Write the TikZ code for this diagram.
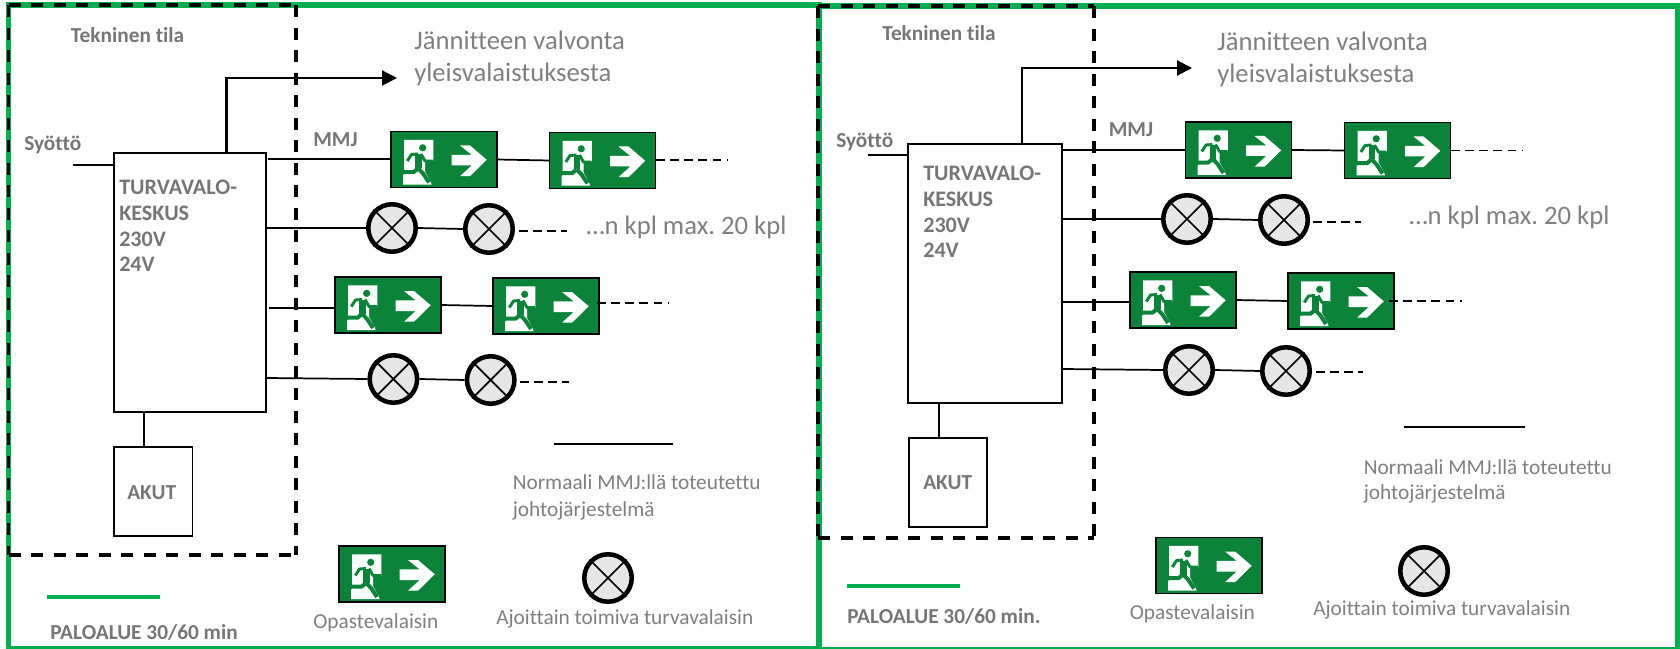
\documentclass[tikz,border=0pt]{standalone}
\usepackage{fontspec}
\setmainfont[Ligatures=NoCommon]{Carlito}
\usetikzlibrary{arrows.meta,calc}
\definecolor{frameG}{HTML}{00B050}
\definecolor{signG}{HTML}{0B843A}
\definecolor{txtG}{HTML}{7F7F7F}
\definecolor{boldG}{HTML}{767676}
\definecolor{lampG}{HTML}{E6E6E6}
\tikzset{
  x=0.75pt,y=-0.75pt,
  frame/.style={draw=frameG,line width=4.1pt,line cap=rect},
  zone/.style={draw=black,line width=2.5pt,dash pattern=on 9pt off 7.9pt},
  wire/.style={draw=black,line width=1.3pt},
  tail/.style={draw=black,line width=1.3pt,dash pattern=on 6.4pt off 4.2pt},
  feed/.style={draw=black,line width=1.6pt,-{Triangle[length=11.25pt,width=11.25pt]}},
  unit/.style={draw=black,line width=1.3pt,fill=white,inner sep=0,outer sep=0},
  signbox/.style={draw=black,line width=1.3pt,fill=signG,minimum width=79.5pt,minimum height=42pt,inner sep=0,outer sep=0},
  lamp/.style={circle,draw=black,line width=3.4pt,fill=lampG,minimum size=35.6pt,inner sep=0},
  bolt/.style={anchor=west,inner sep=0,yshift=-2.1pt,text height=.64em,text depth=0pt,text=boldG,font=\bfseries\fontsize{16pt}{18pt}\selectfont},
  plain/.style={anchor=west,inner sep=0,yshift=-2.1pt,text height=.64em,text depth=0pt,text=txtG,font=\fontsize{16pt}{18pt}\selectfont},
  big/.style={anchor=west,inner sep=0,yshift=-2.6pt,text height=.64em,text depth=0pt,text=txtG,font=\fontsize{20pt}{23pt}\selectfont},
  stack/.style={anchor=north west,inner sep=0,align=left,text=boldG,font=\bfseries\fontsize{16.6pt}{19.3pt}\selectfont},
}
\newcommand{\exitsign}[3]{%
  \node[signbox] (#1) at (#2,#3) {};
  \begin{scope}[shift={(#1.center)}]
    \fill[white] (-40,-19.7) -- (-10.7,-19.7) -- (-10.7,1.5) -- (-19,1.5) -- (-19,12) -- (-13.5,22) -- (-12.5,25) -- (-41,25) -- (-41,16) -- (-40,14.5) -- cycle;
    \fill[signG] (-21.3,-11.7) circle (3.6);
    \draw[signG,line width=4.6pt,line join=round] (-25.5,-5) -- (-25.5,9);
    \draw[signG,line width=2.2pt,line join=round] (-26,-5.5) -- (-32.5,-5) -- (-36.7,1.5);
    \draw[signG,line width=2.2pt,line join=round] (-23,-5.5) -- (-19,1.5) -- (-11,1.5);
    \draw[signG,line width=3pt,line join=round] (-25.7,9) -- (-20.7,14.3) -- (-15,23);
    \draw[signG,line width=3pt,line join=round] (-26,9) -- (-30.5,12.7) -- (-43,12.7);
    \fill[white] (7.7,-4.7) -- (27.7,-4.7) -- (16,-14) -- (26,-14) -- (42.7,0.3) -- (26,16.7) -- (16,16.7) -- (27.7,6) -- (7.7,6) -- cycle;
  \end{scope}}
\newcommand{\xlamp}[3]{%
  \node[lamp] (#1) at (#2,#3) {};
  \draw[wire] (#1.45) -- (#1.225) (#1.135) -- (#1.-45);}
\begin{document}
\frenchspacing
\begin{tikzpicture}
\useasboundingbox (0,0) rectangle (1680,649);
% fire compartments
\coordinate (fa) at (8.5,5);
\coordinate (fb) at (819,648.5);
\coordinate (fc) at (819,6);
\coordinate (fd) at (1678,649.5);
\draw[frame,fill=white] (fa) rectangle (fb);
\draw[frame] (fc) rectangle (fd);
% ---------- left ----------
\node[unit,minimum width=114pt,minimum height=194.25pt] (boxL) at (190,282.5) {};
\node[unit,minimum width=58.95pt,minimum height=66.75pt] (akuL) at (153.3,491.5) {};
\coordinate (inL) at (73,165);
\coordinate (tapL) at (226.5,153);
\coordinate (upL) at (226.5,78);
\coordinate (tipL) at (397,78);
\coordinate (batL) at (144,412);
\coordinate (batLb) at (144,447);
\draw[wire] (inL) -- (inL -| boxL.west);
\draw[feed] (tapL) -- (upL) -- (tipL);
\draw[wire] (batL) -- (batLb);
\exitsign{lA}{444}{159.5}
\exitsign{lB}{602.5}{160.5}
\exitsign{lC}{388}{305}
\exitsign{lD}{546}{306}
\exitsign{lE}{392}{574}
\xlamp{lP}{392}{228}
\xlamp{lQ}{489}{229}
\xlamp{lR}{393.4}{379}
\xlamp{lS}{490.7}{380}
\xlamp{lT}{608}{578}
\coordinate (l1) at (268,159);
\coordinate (l3) at (269,308);
\coordinate (l4) at (266,378);
\draw[wire] (l1) -- (l1 -| lA.west);
\draw[wire] (lA.east) -- (lB.west);
\draw[wire] (boxL.east |- lP.west) -- (lP.west);
\draw[wire] (lP.east) -- (lQ.west);
\draw[wire] (l3) -- (l3 -| lC.west);
\draw[wire] (lC.east) -- (lD.west);
\draw[wire] (l4) -- (lR.west);
\draw[wire] (lR.east) -- (lS.west);
\coordinate (d1a) at (656,160); \coordinate (d1b) at (728,160);
\coordinate (d2a) at (519,231); \coordinate (d2b) at (567,231);
\coordinate (d3a) at (597,303); \coordinate (d3b) at (669,303);
\coordinate (d4a) at (520,381.7); \coordinate (d4b) at (568.6,381.7);
\draw[tail] (d1a) -- (d1b);
\draw[tail] (d2a) -- (d2b);
\draw[tail] (d3a) -- (d3b);
\draw[tail] (d4a) -- (d4b);
\coordinate (ll1) at (554,444); \coordinate (ll2) at (673,444);
\draw[wire] (ll1) -- (ll2);
\coordinate (lg1) at (46.7,597); \coordinate (lg2) at (160,597);
\draw[draw=frameG,line width=3pt] (lg1) -- (lg2);
\coordinate (za) at (8.5,5); \coordinate (zb) at (296,5); \coordinate (zc) at (296,555); \coordinate (zd) at (8.5,555);
\draw[zone] (za) -- (zb) (zb) -- (zc) (zd) -- (zc) (za) -- (zd);
\node[bolt] (tL1) at (70.7,35) {Tekninen tila};
\node[bolt] (tL2) at (24,143) {Syöttö};
\node[bolt] (tL3) at (313,139) {MMJ};
\node[stack] (tL4) at (119,180) {TURVAVALO-\\KESKUS\\230V\\24V};
\node[bolt] (tL5) at (127,492) {AKUT};
\node[bolt] (tL6) at (50,632) {PALOALUE 30/60 min};
\node[big] (tL7) at (414,42) {Jännitteen valvonta};
\node[big] (tL8) at (414,74) {yleisvalaistuksesta};
\node[big] (tL9) at (586,227) {…n kpl max. 20 kpl};
\node[plain] (tL10) at (512.5,482) {Normaali MMJ:llä toteutettu};
\node[plain] (tL11) at (512.5,509) {johtojärjestelmä};
\node[plain] (tL12) at (313,621) {Opastevalaisin};
\node[plain] (tL13) at (496,617) {Ajoittain toimiva turvavalaisin};
% ---------- right ----------
\node[unit,minimum width=115.5pt,minimum height=194.25pt] (boxR) at (985,273.5) {};
\node[unit,minimum width=58.5pt,minimum height=66.75pt] (akuR) at (948,482.5) {};
\coordinate (inR) at (868,155);
\coordinate (tapR) at (1022,144);
\coordinate (upR) at (1022,68);
\coordinate (tipR) at (1192,68);
\coordinate (batR) at (939,403);
\coordinate (batRb) at (939,438);
\draw[wire] (inR) -- (inR -| boxR.west);
\draw[feed] (tapR) -- (upR) -- (tipR);
\draw[wire] (batR) -- (batRb);
\exitsign{rA}{1238.5}{150}
\exitsign{rB}{1397.5}{150.5}
\exitsign{rC}{1183}{300}
\exitsign{rD}{1341}{301}
\exitsign{rE}{1209}{565.5}
\xlamp{rP}{1187}{219}
\xlamp{rQ}{1284}{220}
\xlamp{rR}{1189}{370}
\xlamp{rS}{1286}{371}
\xlamp{rT}{1424}{571}
\coordinate (r1) at (1063,150);
\coordinate (r3) at (1063,302);
\coordinate (r4) at (1062,369);
\draw[wire] (r1) -- (r1 -| rA.west);
\draw[wire] (rA.east) -- (rB.west);
\draw[wire] (boxR.east |- rP.west) -- (rP.west);
\draw[wire] (rP.east) -- (rQ.west);
\draw[wire] (r3) -- (r3 -| rC.west);
\draw[wire] (rC.east) -- (rD.west);
\draw[wire] (r4) -- (rR.west);
\draw[wire] (rR.east) -- (rS.west);
\coordinate (e1a) at (1451,150.5); \coordinate (e1b) at (1523,150.5);
\coordinate (e2a) at (1313,222); \coordinate (e2b) at (1361,222);
\coordinate (e3a) at (1389,300.7); \coordinate (e3b) at (1462,300.7);
\coordinate (e4a) at (1316,372); \coordinate (e4b) at (1363,372);
\draw[tail] (e1a) -- (e1b);
\draw[tail] (e2a) -- (e2b);
\draw[tail] (e3a) -- (e3b);
\draw[tail] (e4a) -- (e4b);
\coordinate (rl1) at (1404,427); \coordinate (rl2) at (1525,427);
\draw[wire] (rl1) -- (rl2);
\coordinate (rg1) at (847,586); \coordinate (rg2) at (960,586);
\draw[draw=frameG,line width=3pt] (rg1) -- (rg2);
\coordinate (ya) at (818,6); \coordinate (yb) at (1094,6); \coordinate (yc) at (1094,538); \coordinate (yd) at (818,538);
\draw[zone] (ya) -- (yb) (yb) -- (yc) (yd) -- (yc) (ya) -- (yd);
\node[bolt] (tR1) at (882,33) {Tekninen tila};
\node[bolt] (tR2) at (836,140) {Syöttö};
\node[bolt] (tR3) at (1108.5,129) {MMJ};
\node[stack] (tR4) at (923,166) {TURVAVALO-\\KESKUS\\230V\\24V};
\node[bolt] (tR5) at (923,482) {AKUT};
\node[bolt] (tR6) at (847,616) {PALOALUE 30/60 min.};
\node[big] (tR7) at (1217,43) {Jännitteen valvonta};
\node[big] (tR8) at (1217,75) {yleisvalaistuksesta};
\node[big] (tR9) at (1409,217) {…n kpl max. 20 kpl};
\node[plain] (tR10) at (1363.6,467) {Normaali MMJ:llä toteutettu};
\node[plain] (tR11) at (1363.6,492) {johtojärjestelmä};
\node[plain] (tR12) at (1129.5,612) {Opastevalaisin};
\node[plain] (tR13) at (1313,608) {Ajoittain toimiva turvavalaisin};
\end{tikzpicture}
\end{document}
